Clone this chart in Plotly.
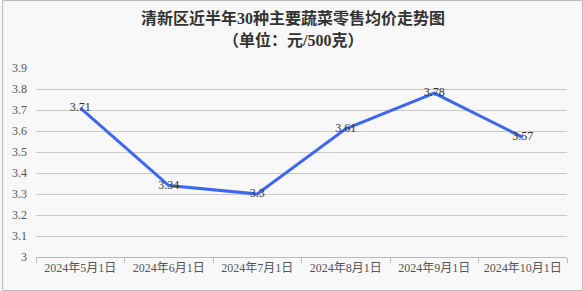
import plotly.graph_objects as go

categories = ["2024年5月1日", "2024年6月1日", "2024年7月1日", "2024年8月1日", "2024年9月1日", "2024年10月1日"]
values = [3.71, 3.34, 3.30, 3.61, 3.78, 3.57]
labels = ["3.71", "3.34", "3.3", "3.61", "3.78", "3.57"]
yticks = [3.0, 3.1, 3.2, 3.3, 3.4, 3.5, 3.6, 3.7, 3.8, 3.9]
yticktext = ["3", "3.1", "3.2", "3.3", "3.4", "3.5", "3.6", "3.7", "3.8", "3.9"]
title_lines = ["清新区近半年30种主要蔬菜零售均价走势图", "（单位：元/500克）"]

W, H = 583, 291
ml, mr, mt, mb = 34, 16, 68, 34
pw, ph = W - ml - mr, H - mt - mb

font_fam = "Liberation Serif, Noto Sans CJK SC, serif"

fig = go.Figure()
fig.add_trace(go.Scatter(
    x=categories, y=values, mode="lines+text", text=labels,
    textposition="middle center",
    textfont=dict(family=font_fam, size=12, color="#333333"),
    line=dict(color="#3d66f2", width=3),
    hoverinfo="skip", cliponaxis=False,
))

fig.update_layout(
    width=W, height=H,
    margin=dict(l=ml, r=mr, t=mt, b=mb),
    paper_bgcolor="#f8f8f8", plot_bgcolor="#f8f8f8",
    showlegend=False,
    xaxis=dict(
        type="category", range=[-0.5, 5.5],
        showgrid=False, showline=True, linecolor="#bbbbbb", linewidth=1,
        ticks="outside", ticklen=5, tickcolor="#bbbbbb", tickson="boundaries",
        tickfont=dict(family=font_fam, size=12, color="#555555"),
        fixedrange=True,
    ),
    yaxis=dict(
        range=[3.0, 3.9], tickvals=yticks, ticktext=yticktext,
        showgrid=True, gridcolor="#c8c8c8", gridwidth=1,
        zeroline=False, showline=False, ticks="", ticklabelstandoff=8,
        tickfont=dict(family=font_fam, size=12, color="#555555"),
        fixedrange=True,
    ),
)

for line, ypx in zip(title_lines, [18, 40]):
    fig.add_annotation(
        text="<b>" + line + "</b>", xref="paper", yref="paper",
        x=0.5 - (ml - mr) / 2 / pw, y=1 + (mt - ypx) / ph,
        xanchor="center", yanchor="middle", showarrow=False,
        font=dict(family=font_fam, size=16, color="#333333"),
    )

fig.add_shape(
    type="rect", xref="paper", yref="paper",
    x0=(-ml + 0.5) / pw, x1=1 + (mr - 0.5) / pw,
    y0=(-mb + 0.5) / ph, y1=1 + (mt - 0.5) / ph,
    line=dict(color="#bbbbbb", width=1), fillcolor="rgba(0,0,0,0)", layer="below",
)

fig.write_html("out.html")
